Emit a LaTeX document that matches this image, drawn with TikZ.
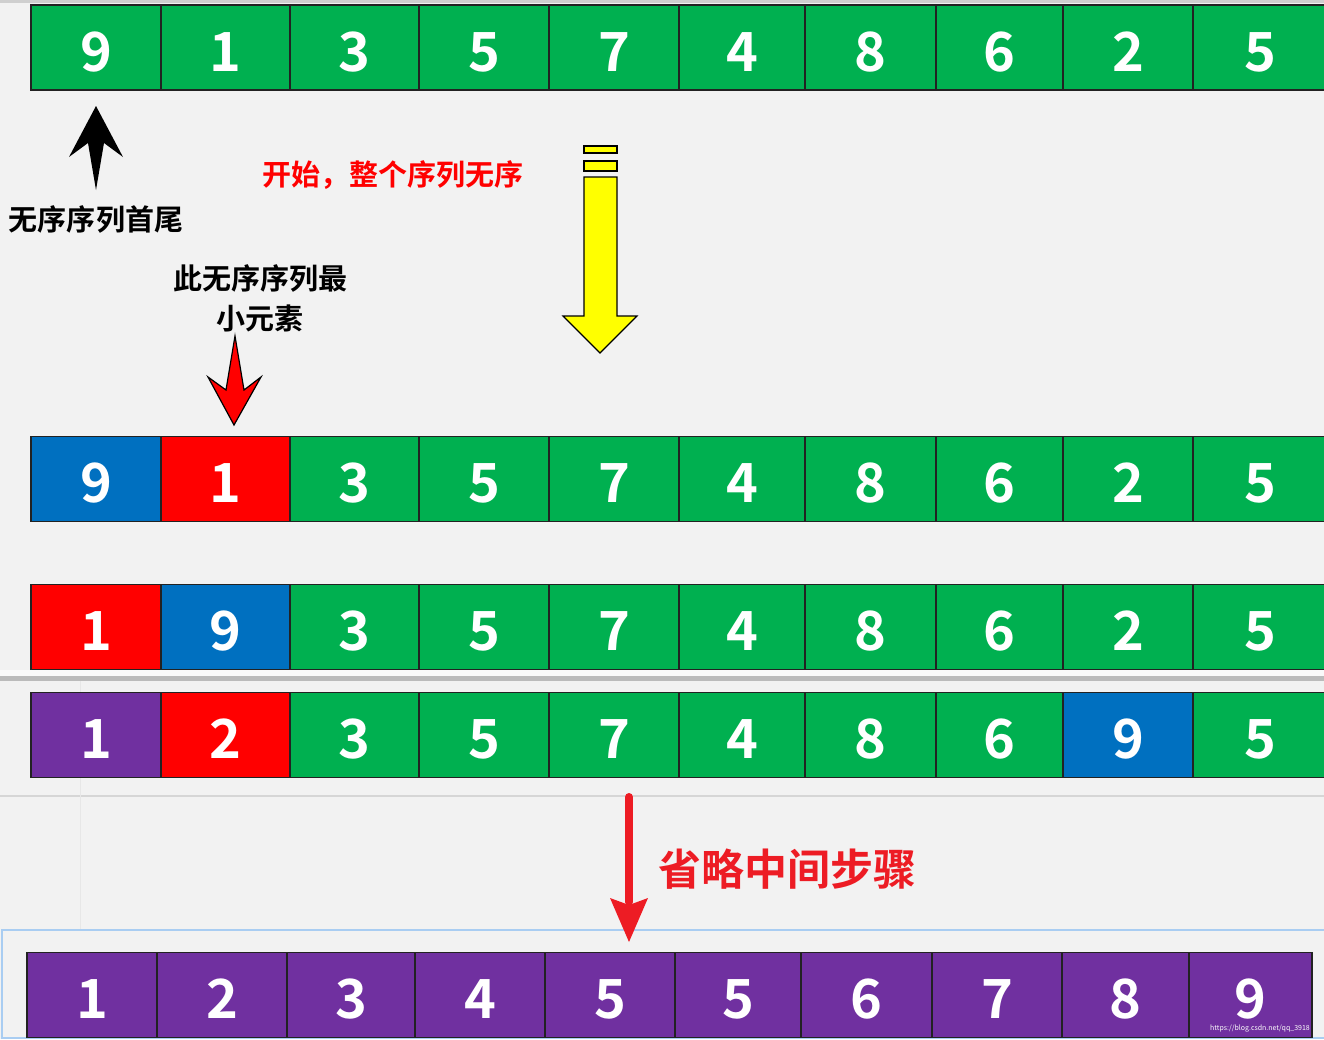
\documentclass[tikz,border=0pt]{standalone}
\usepackage{fontspec}
\setmainfont{Noto Sans CJK SC}[BoldFont={Noto Sans CJK SC Bold}]
\usetikzlibrary{positioning}
\definecolor{paper}{HTML}{F2F2F2}
\definecolor{edge}{HTML}{222222}
\definecolor{sgreen}{HTML}{00B050}
\definecolor{sblue}{HTML}{0070C0}
\definecolor{sred}{HTML}{FF0000}
\definecolor{spurple}{HTML}{7030A0}
\definecolor{syellow}{HTML}{FFFF00}
\definecolor{skipred}{HTML}{ED1C24}
\definecolor{bar}{HTML}{BBBBBB}
\definecolor{glow}{HTML}{A9CDF2}
\tikzset{cell/.style={draw=edge,line width=1.5pt,inner sep=0pt,outer sep=0pt,minimum height=85pt,
 text height=47pt,text depth=0pt,text=white,font=\fontsize{54}{54}\selectfont\bfseries},
 note/.style={font=\fontsize{29}{40}\selectfont\bfseries,align=center,inner sep=0pt},
 arrowshape/.style={draw=black,line width=1.2pt,line join=miter}}
% column edges of the rows
\def\colsA{{31,161,290,419,549,679,805,936,1063,1193,1328}}
\def\colsB{{27,157,287,415,545,675,801,932,1062,1189,1312}}
\newcommand\cellrow[4]{% name, mid y, edges, values
 \foreach \v/\clr [count=\i] in {#4}{
  \pgfmathsetmacro\xa{#3[\i-1]}\pgfmathsetmacro\xb{#3[\i]}
  \node[cell,fill=\clr,minimum width=\xb-\xa] (#1\i) at ({(\xa+\xb)/2},#2) {\v};}}

\begin{document}
\begin{tikzpicture}[x=1pt,y=-1pt]
\useasboundingbox (0,0) rectangle (1324,1039);
\clip (0,0) rectangle (1324,1039);
\fill[paper] (0,0) rectangle (1324,1039);
% window parts
\fill[bar!70] (0,0) rectangle (1324,3);
\fill[bar] (0,676) rectangle (1324,681);
\fill[white!60!paper] (0,670) rectangle (1324,676);
\draw[bar!60,line width=2pt] (0,796) -- (1324,796);
\draw[bar!35,line width=1pt] (80,681) -- (80,930);
\draw[glow,line width=2.5pt] (2,1039) -- (2,930) -- (1324,930);
\draw[glow,line width=1.5pt] (2,1038) -- (1324,1038);
% rows
\cellrow{a}{47.5}{\colsA}{9/sgreen,1/sgreen,3/sgreen,5/sgreen,7/sgreen,4/sgreen,8/sgreen,6/sgreen,2/sgreen,5/sgreen}
\cellrow{b}{479}{\colsA}{9/sblue,1/sred,3/sgreen,5/sgreen,7/sgreen,4/sgreen,8/sgreen,6/sgreen,2/sgreen,5/sgreen}
\cellrow{c}{627}{\colsA}{1/sred,9/sblue,3/sgreen,5/sgreen,7/sgreen,4/sgreen,8/sgreen,6/sgreen,2/sgreen,5/sgreen}
\cellrow{d}{735}{\colsA}{1/spurple,2/sred,3/sgreen,5/sgreen,7/sgreen,4/sgreen,8/sgreen,6/sgreen,9/sblue,5/sgreen}
\cellrow{e}{995}{\colsB}{1/spurple,2/spurple,3/spurple,4/spurple,5/spurple,5/spurple,6/spurple,7/spurple,8/spurple,9/spurple}
% labels
\node[note] (ends) at (96,219) {无序序列首尾};
\node[note,text=sred] (start) at (393,175) {开始，整个序列无序};
\node[note] (least) at (260,298) {此无序序列最\\小元素};
\node[font=\fontsize{43}{43}\selectfont\bfseries,text=skipred,inner sep=0pt] (skip) at (787,869) {省略中间步骤};
\node[font=\fontsize{7}{7}\selectfont,text=white!80!paper,inner sep=0pt,anchor=west] (url) at (1210,1029) {https://blog.csdn.net/qq\_3918};
% arrows
\fill[black] (96,106) -- (123,157) -- (104,143) -- (96,190) -- (88,143) -- (69,157) -- cycle;
\filldraw[arrowshape,fill=sred] (235,336) -- (244,390) -- (261,377) -- (234,425) -- (208,377) -- (226,390) -- cycle;
\filldraw[arrowshape,fill=syellow] (584,146) rectangle (617,153);
\filldraw[arrowshape,fill=syellow] (584,161) rectangle (617,171);
\filldraw[arrowshape,fill=syellow] (584,177) -- (617,177) -- (617,316) -- (637,316) -- (600,353) -- (563,316) -- (584,316) -- cycle;
\draw[color=skipred,line width=8pt,line cap=round] (629,797) -- (629,902);
\fill[skipred] (610,898) -- (629,905) -- (648,898) -- (629,942) -- cycle;
\end{tikzpicture}
\end{document}
